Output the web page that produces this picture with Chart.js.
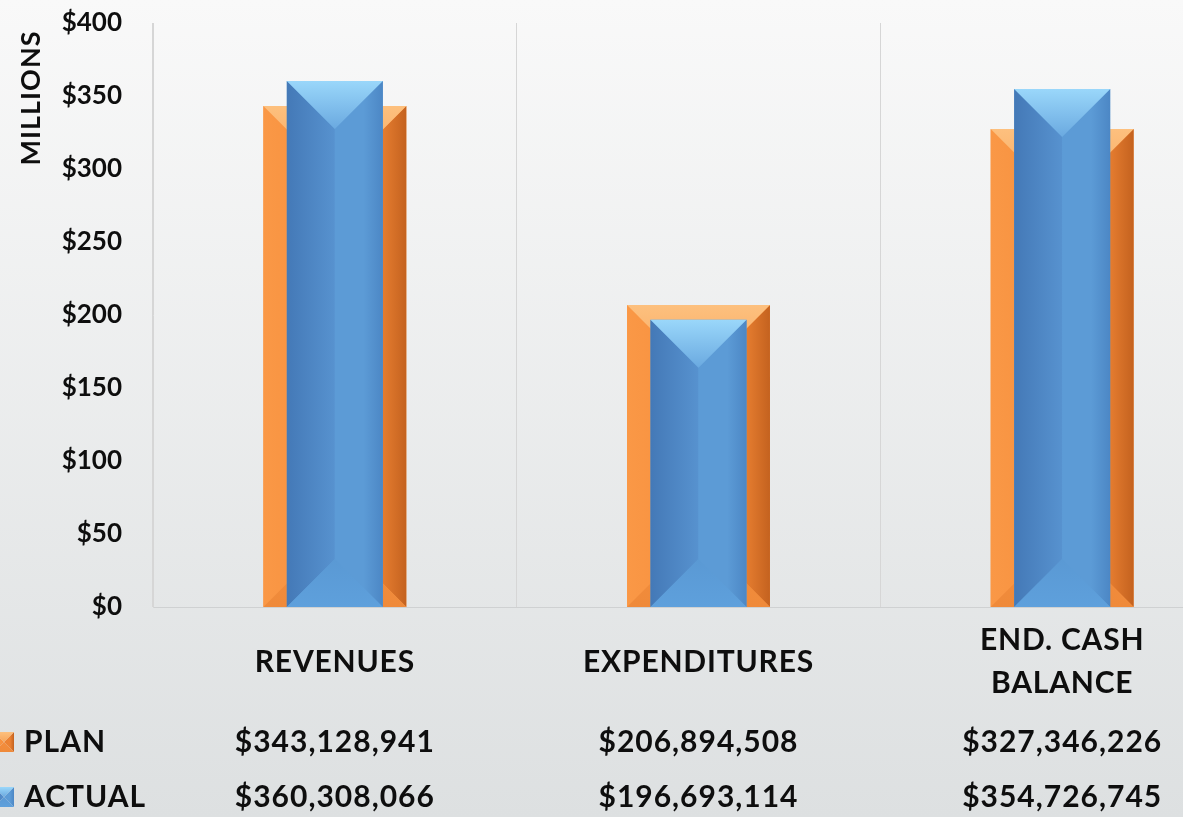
<!DOCTYPE html>
<html>
<head>
<meta charset="utf-8">
<script src="https://cdn.jsdelivr.net/npm/chart.js@4.4.1/dist/chart.umd.min.js"></script>
<style>
  html, body { margin: 0; padding: 0; overflow: hidden; }
  body { width: 1183px; height: 817px; background: linear-gradient(#f9f9f9, #dde0e1); position: relative; }
  #wrap { position: absolute; left: 0; top: 0; width: 1250px; height: 817px; }
</style>
</head>
<body>
<div id="wrap"><canvas id="budgetChart"></canvas></div>
<script>
// categories and values (dollars)
const categories = [['REVENUES'], ['EXPENDITURES'], ['END. CASH', 'BALANCE']];
const seriesNames = ['PLAN', 'ACTUAL'];
const planValues = [343128941, 206894508, 327346226];
const actualValues = [360308066, 196693114, 354726745];
const axisTitle = 'MILLIONS';

const FONT = 'Lato, "Open Sans", sans-serif';
const TEXT = '#0e0e0e';

const orangeBevel = {
  leftEdge: '#fa9846', leftMid: '#f68e3c', rightMid: '#ec8233', rightEdge: '#c4621f',
  topA: '#fdc07e', topB: '#f8a55a', botA: '#ef8a3a', botB: '#f48d3c'
};
const blueBevel = {
  leftEdge: '#4479b7', leftMid: '#5792cf', rightMid: '#5c9bd6', rightEdge: '#4c87c5',
  topA: '#9ad7fa', topB: '#6aa9e0', botA: '#5ea0dc', botB: '#5a99d4'
};

// draw a pyramid-style bevel over a rectangle
function drawBevel(ctx, l, t, r, b, pal) {
  const cx = (l + r) / 2;
  const d = Math.min((r - l) / 2, (b - t) / 2);
  const face = (pts, fill) => {
    ctx.beginPath();
    ctx.moveTo(pts[0][0], pts[0][1]);
    for (let i = 1; i < pts.length; i++) ctx.lineTo(pts[i][0], pts[i][1]);
    ctx.closePath();
    ctx.fillStyle = fill;
    ctx.fill();
  };
  let g = ctx.createLinearGradient(l, 0, cx, 0);
  g.addColorStop(0, pal.leftEdge); g.addColorStop(1, pal.leftMid);
  face([[l, t], [cx, t + d], [cx, b - d], [l, b]], g);

  g = ctx.createLinearGradient(cx, 0, r, 0);
  g.addColorStop(0, pal.rightMid); g.addColorStop(0.6, pal.rightMid); g.addColorStop(1, pal.rightEdge);
  face([[r, t], [cx, t + d], [cx, b - d], [r, b]], g);

  g = ctx.createLinearGradient(0, b, 0, b - d);
  g.addColorStop(0, pal.botA); g.addColorStop(1, pal.botB);
  face([[l, b], [r, b], [cx, b - d]], g);

  g = ctx.createLinearGradient(0, t, 0, t + d);
  g.addColorStop(0, pal.topA); g.addColorStop(1, pal.topB);
  face([[l, t], [r, t], [cx, t + d]], g);
}

const bevelPlugin = {
  id: 'bevel',
  afterDatasetDraw(chart, args) {
    const ctx = chart.ctx;
    const pal = chart.data.datasets[args.index].bevel;
    ctx.save();
    args.meta.data.forEach(bar => {
      const p = bar.getProps(['x', 'y', 'base', 'width'], true);
      drawBevel(ctx, p.x - p.width / 2, p.y, p.x + p.width / 2, p.base, pal);
    });
    ctx.restore();
  }
};

const money = v => '$' + v.toLocaleString('en-US');

// category labels, data table and legend keys under the plot
const tablePlugin = {
  id: 'dataTable',
  afterDraw(chart) {
    const ctx = chart.ctx;
    const xs = chart.scales.x;
    ctx.save();
    ctx.textBaseline = 'middle';

    // axis title
    ctx.save();
    ctx.fillStyle = TEXT;
    ctx.font = 'bold 27px ' + FONT;
    ctx.letterSpacing = '1px';
    ctx.translate(31, 98);
    ctx.rotate(-Math.PI / 2);
    ctx.textAlign = 'center';
    ctx.fillText(axisTitle, 0, 0);
    ctx.restore();

    ctx.fillStyle = TEXT;
    ctx.font = 'bold 30px ' + FONT;
    ctx.letterSpacing = '0.8px';
    ctx.textAlign = 'center';
    categories.forEach((lines, i) => {
      const x = xs.getPixelForValue(i);
      const lh = 43;
      const y0 = 662 - (lines.length - 1) * lh / 2;
      lines.forEach((s, k) => ctx.fillText(s, x, y0 + k * lh));
    });

    ctx.font = 'bold 30px ' + FONT;
    ctx.letterSpacing = '1px';
    const rows = [[planValues, 742, orangeBevel], [actualValues, 797, blueBevel]];
    rows.forEach(([vals, y, pal], r) => {
      ctx.fillStyle = TEXT;
      ctx.textAlign = 'center';
      vals.forEach((v, i) => ctx.fillText(money(v), xs.getPixelForValue(i), y));
      ctx.textAlign = 'left';
      ctx.fillText(seriesNames[r], 24, y);
      drawBevel(ctx, -6, y - 10, 14, y + 10, pal);
    });
    ctx.restore();
  }
};

new Chart(document.getElementById('budgetChart'), {
  type: 'bar',
  data: {
    labels: categories,
    datasets: [
      {
        label: seriesNames[0],
        data: planValues,
        backgroundColor: '#f79646',
        bevel: orangeBevel,
        barPercentage: 0.393,
        categoryPercentage: 1,
        grouped: false,
        order: 1
      },
      {
        label: seriesNames[1],
        data: actualValues,
        backgroundColor: '#5b9bd5',
        bevel: blueBevel,
        barPercentage: 0.264,
        categoryPercentage: 1,
        grouped: false,
        order: 0
      }
    ]
  },
  options: {
    responsive: true,
    maintainAspectRatio: false,
    animation: false,
    layout: { padding: { top: 23, right: 6, bottom: 210, left: 0 } },
    plugins: { legend: { display: false }, tooltip: { enabled: false } },
    scales: {
      x: {
        ticks: { display: false },
        grid: { color: '#d6d6d6', drawTicks: false, offset: true },
        border: { color: '#cfd1d2' }
      },
      y: {
        min: 0,
        max: 400000000,
        ticks: {
          stepSize: 50000000,
          padding: 31,
          color: TEXT,
          font: { family: FONT, size: 26, weight: 'bold' },
          callback: v => '$' + v / 1e6
        },
        grid: { display: false, drawTicks: false },
        border: { color: '#d6d6d6' },
        afterFit: scale => {
          scale.width = 153;
          scale.paddingTop = 0;
          scale.paddingBottom = 0;
        }
      }
    }
  },
  plugins: [bevelPlugin, tablePlugin]
});
</script>
</body>
</html>
